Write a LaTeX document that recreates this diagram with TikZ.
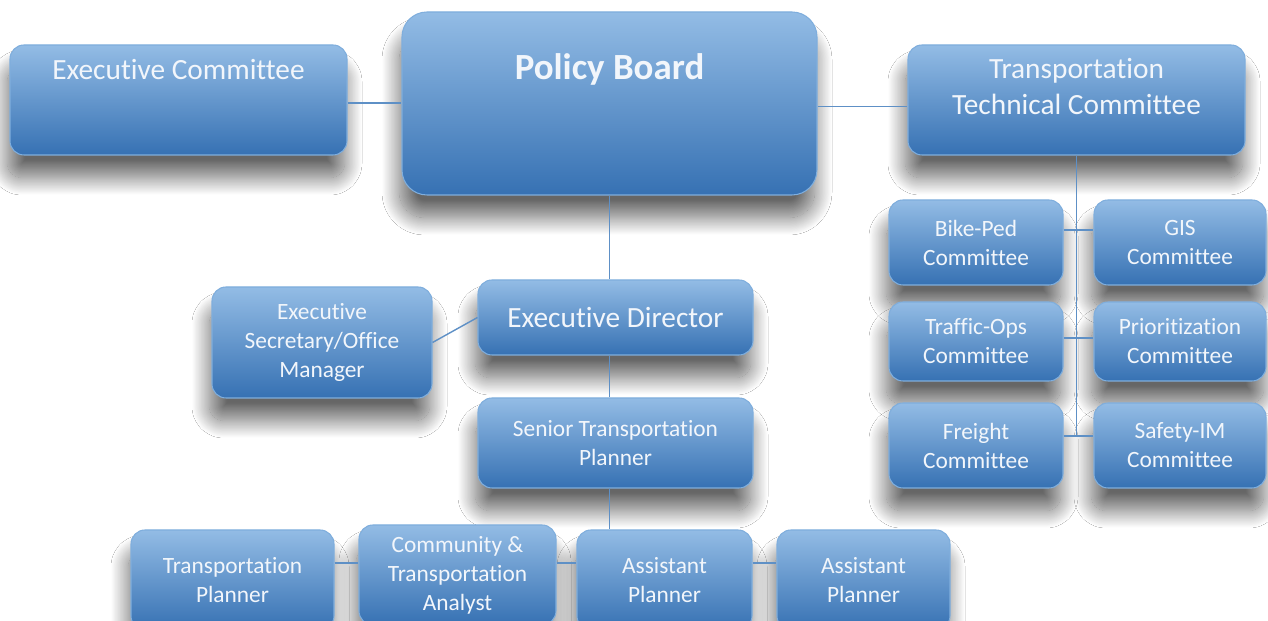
\documentclass[tikz,border=0pt]{standalone}
\usepackage{fontspec}
\setmainfont[Ligatures=NoCommon]{Carlito}
\usetikzlibrary{shadows.blur,calc}

\definecolor{boxtop}{HTML}{93BCE5}
\definecolor{boxbot}{HTML}{3671B3}
\definecolor{boxline}{HTML}{7FAEDD}
\definecolor{linkblue}{HTML}{5E90C6}
\definecolor{boxtext}{HTML}{F2F6FB}

\tikzset{
  orgbox/.style={draw=boxline, line width=0.6pt, rounded corners=0.28cm,
    top color=boxtop, bottom color=boxbot, text=boxtext, align=center,
    inner sep=0pt, font=\fontsize{13.3}{16.5}\selectfont,
    blur shadow={shadow xshift=-0.05cm, shadow yshift=-0.45cm, shadow blur radius=0.35cm,
      shadow blur steps=30, shadow opacity=60}},
  bigbox/.style={orgbox, font=\fontsize{16.7}{20.5}\selectfont},
  link/.style={draw=linkblue, line width=0.8pt}
}

\begin{document}
\begin{tikzpicture}
\clip (0,0) rectangle (25.36,12.42);
\fill[white] (0,0) rectangle (25.36,12.42);

%top row
\node[bigbox, minimum width=6.74cm, minimum height=2.2cm, text height=0.7cm, text depth=1.5cm] (ec) at (3.57,10.42) {Executive Committee};
\node[orgbox, minimum width=8.3cm, minimum height=3.66cm, rounded corners=0.5cm, text height=1.36cm, text depth=2.3cm, font=\fontsize{21}{25}\selectfont\bfseries] (pb) at (12.19,10.35) {Policy Board};
\node[bigbox, minimum width=6.74cm, minimum height=2.2cm, text height=1.4cm, text depth=0.8cm] (ttc) at (21.53,10.42) {Transportation\\Technical Committee};

%committees
\node[orgbox, minimum width=3.48cm, minimum height=1.7cm] (bike) at (19.52,7.57) {Bike-Ped\\Committee};
\node[orgbox, minimum width=3.44cm, minimum height=1.7cm] (gis) at (23.6,7.57) {GIS\\Committee};
\node[orgbox, minimum width=3.48cm, minimum height=1.58cm] (traffic) at (19.52,5.59) {Traffic-Ops\\Committee};
\node[orgbox, minimum width=3.44cm, minimum height=1.58cm] (prio) at (23.6,5.59) {Prioritization\\Committee};
\node[orgbox, minimum width=3.48cm, minimum height=1.7cm] (freight) at (19.52,3.51) {Freight\\Committee};
\node[orgbox, minimum width=3.44cm, minimum height=1.7cm] (safety) at (23.6,3.51) {Safety-IM\\Committee};

%staff
\node[bigbox, minimum width=5.5cm, minimum height=1.5cm] (ed) at (12.31,6.07) {Executive Director};
\node[orgbox, minimum width=4.4cm, minimum height=2.22cm] (esec) at (6.44,5.57) {Executive\\Secretary/Office\\Manager};
\node[orgbox, minimum width=5.5cm, minimum height=1.8cm] (stp) at (12.31,3.56) {Senior Transportation\\Planner};

%bottom row
\node[orgbox, minimum width=4.06cm, minimum height=2cm] (tp) at (4.65,0.82) {Transportation\\Planner};
\node[orgbox, minimum width=3.94cm, minimum height=2cm] (cta) at (9.15,0.92) {Community \&\\Transportation\\Analyst};
\node[orgbox, minimum width=3.5cm, minimum height=2cm] (ap1) at (13.29,0.82) {Assistant\\Planner};
\node[orgbox, minimum width=3.46cm, minimum height=2cm] (ap2) at (17.27,0.82) {Assistant\\Planner};

%links
\draw[link] ([yshift=-0.06cm]ec.east) -- ([yshift=-0.06cm]ec.east -| pb.west);
\draw[link] ([yshift=-0.06cm]pb.east) -- ([yshift=-0.06cm]pb.east -| ttc.west);
\coordinate (fj) at ([yshift=0.19cm]freight.east);
\draw[link] (ttc.south) -- (ttc.south |- fj);
\draw[link] ([yshift=0.25cm]bike.east) -- ([yshift=0.25cm]gis.west);
\draw[link] ([yshift=0.07cm]traffic.east) -- ([yshift=0.07cm]prio.west);
\draw[link] ([yshift=0.19cm]freight.east) -- ([yshift=0.19cm]safety.west);
\draw[link] (pb.south) -- (pb.south |- ed.north);
\draw[link] (esec.east) -- (ed.west);
\draw[link] (pb.south |- ed.south) -- (pb.south |- stp.north);
\draw[link] (pb.south |- stp.south) -- (pb.south |- ap1.north);
\draw[link] ([yshift=0.34cm]tp.east) -- ([yshift=0.24cm]cta.west);
\draw[link] ([yshift=0.24cm]cta.east) -- ([yshift=0.34cm]ap1.west);
\draw[link] ([yshift=0.34cm]ap1.east) -- ([yshift=0.34cm]ap2.west);

\end{tikzpicture}
\end{document}
